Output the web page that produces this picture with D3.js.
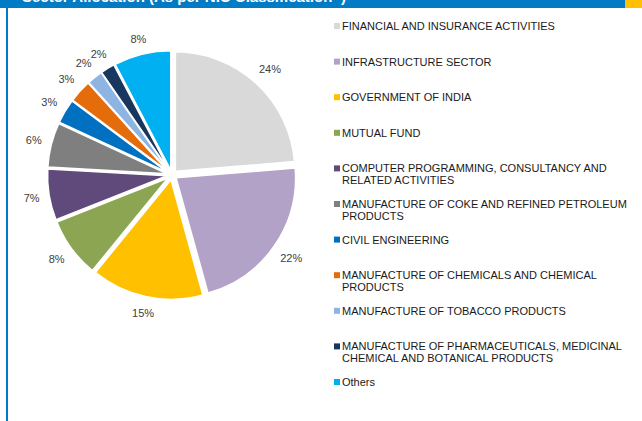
<!DOCTYPE html>
<html>
<head>
<meta charset="utf-8">
<script src="https://cdn.jsdelivr.net/npm/d3@7"></script>
<style>
  html, body { margin: 0; padding: 0; background: #fff; }
  svg { display: block; font-family: "Liberation Sans", Arial, sans-serif; }
</style>
</head>
<body>
<div id="chart"></div>
<script>
// Sector names, in slice order (clockwise from 12 o'clock)
const sectors = [
  "FINANCIAL AND INSURANCE ACTIVITIES",
  "INFRASTRUCTURE SECTOR",
  "GOVERNMENT OF INDIA",
  "MUTUAL FUND",
  "COMPUTER PROGRAMMING, CONSULTANCY AND RELATED ACTIVITIES",
  "MANUFACTURE OF COKE AND REFINED PETROLEUM PRODUCTS",
  "CIVIL ENGINEERING",
  "MANUFACTURE OF CHEMICALS AND CHEMICAL PRODUCTS",
  "MANUFACTURE OF TOBACCO PRODUCTS",
  "MANUFACTURE OF PHARMACEUTICALS, MEDICINAL CHEMICAL AND BOTANICAL PRODUCTS",
  "Others"
];

// Allocation (% of portfolio)
const allocation = [23.7, 22.0, 15.2, 8.1, 6.9, 6.0, 3.3, 3.1, 2.1, 1.9, 7.7];

// Legend lines (wrapped the way the reference wraps them)
const legendLines = [
  ["FINANCIAL AND INSURANCE ACTIVITIES"],
  ["INFRASTRUCTURE SECTOR"],
  ["GOVERNMENT OF INDIA"],
  ["MUTUAL FUND"],
  ["COMPUTER PROGRAMMING, CONSULTANCY AND", "RELATED ACTIVITIES"],
  ["MANUFACTURE OF COKE AND REFINED PETROLEUM", "PRODUCTS"],
  ["CIVIL ENGINEERING"],
  ["MANUFACTURE OF CHEMICALS AND CHEMICAL", "PRODUCTS"],
  ["MANUFACTURE OF TOBACCO PRODUCTS"],
  ["MANUFACTURE OF PHARMACEUTICALS, MEDICINAL", "CHEMICAL AND BOTANICAL PRODUCTS"],
  ["Others"]
];

const sliceColours = [
  "#d9d9d9", "#b3a2c7", "#ffc000", "#8ba552", "#604a7b", "#7f7f7f",
  "#0070c0", "#e46c0a", "#8eb4e3", "#17375e", "#00b0f0"
];

const title = "Sector Allocation (As per NIC Classification^)";

// Layout
const width = 642;
const height = 421;
const cx = 172;
const cy = 175;
const radius = 119.5;
const explode = 5; // every slice pulled out a little
const labelGap = 9;

const svg = d3
  .select("#chart")
  .append("svg")
  .attr("width", width)
  .attr("height", height);

// Header band + frame line (the title sits mostly above the top edge, as in the source)
svg.append("rect").attr("x", 0).attr("y", 0).attr("width", 625).attr("height", 8).attr("fill", "#007bc4");
svg.append("rect").attr("x", 625).attr("y", 0).attr("width", 17).attr("height", 8).attr("fill", "#ffc000");
svg.append("rect").attr("x", 6).attr("y", 8).attr("width", 2).attr("height", height - 8).attr("fill", "#007bc4");
svg
  .append("text")
  .attr("x", 22)
  .attr("y", 2)
  .attr("fill", "#fff")
  .attr("font-weight", "bold")
  .attr("font-size", 15)
  .text(title);

// Pie
const data = sectors.map((name, i) => ({ name, value: allocation[i], colour: sliceColours[i] }));
const total = d3.sum(allocation);

const pie = d3.pie().value((d) => d.value).sort(null);
const arcs = pie(data);
const arc = d3.arc().innerRadius(0).outerRadius(radius);

const offset = (d, r) => {
  const a = (d.startAngle + d.endAngle) / 2;
  return [Math.sin(a) * r, -Math.cos(a) * r];
};

const pieG = svg.append("g").attr("transform", `translate(${cx}, ${cy})`);

pieG
  .selectAll("path")
  .data(arcs)
  .enter()
  .append("path")
  .attr("d", arc)
  .attr("fill", (d) => d.data.colour)
  .attr("stroke", "#fff")
  .attr("stroke-width", 1.5)
  .attr("stroke-linejoin", "round")
  .attr("transform", (d) => `translate(${offset(d, explode)})`);

// Outside-end labels: push the label box out until it clears the rim
const fmt = (v) => Math.round((v / total) * 100) + "%";
pieG
  .selectAll("text")
  .data(arcs)
  .enter()
  .append("text")
  .attr("text-anchor", "middle")
  .attr("dominant-baseline", "central")
  .attr("font-size", 11)
  .attr("fill", "#404040")
  .text((d) => fmt(d.data.value))
  .attr("transform", function (d) {
    const a = (d.startAngle + d.endAngle) / 2;
    const w = this.getComputedTextLength();
    const r = radius + explode + labelGap + (w / 2) * Math.abs(Math.sin(a)) + 5 * Math.abs(Math.cos(a));
    return `translate(${offset(d, r)})`;
  });

// Legend
const legendX = 334;
const legendY0 = 26;
const legendStep = 35.6;
const lineHeight = 12;

const legendItem = svg
  .selectAll(".legend")
  .data(data)
  .enter()
  .append("g")
  .attr("class", "legend")
  .attr("transform", (d, i) => `translate(${legendX}, ${legendY0 + i * legendStep})`);

legendItem
  .append("rect")
  .attr("x", 0)
  .attr("y", -3)
  .attr("width", 6)
  .attr("height", 6)
  .attr("fill", (d) => d.colour);

legendItem
  .append("text")
  .attr("font-size", 11)
  .attr("fill", "#1a1a1a")
  .selectAll("tspan")
  .data((d, i) => legendLines[i])
  .enter()
  .append("tspan")
  .attr("x", 8)
  .attr("y", (d, j) => j * lineHeight)
  .attr("dominant-baseline", "central")
  .text((d) => d);
</script>
</body>
</html>
